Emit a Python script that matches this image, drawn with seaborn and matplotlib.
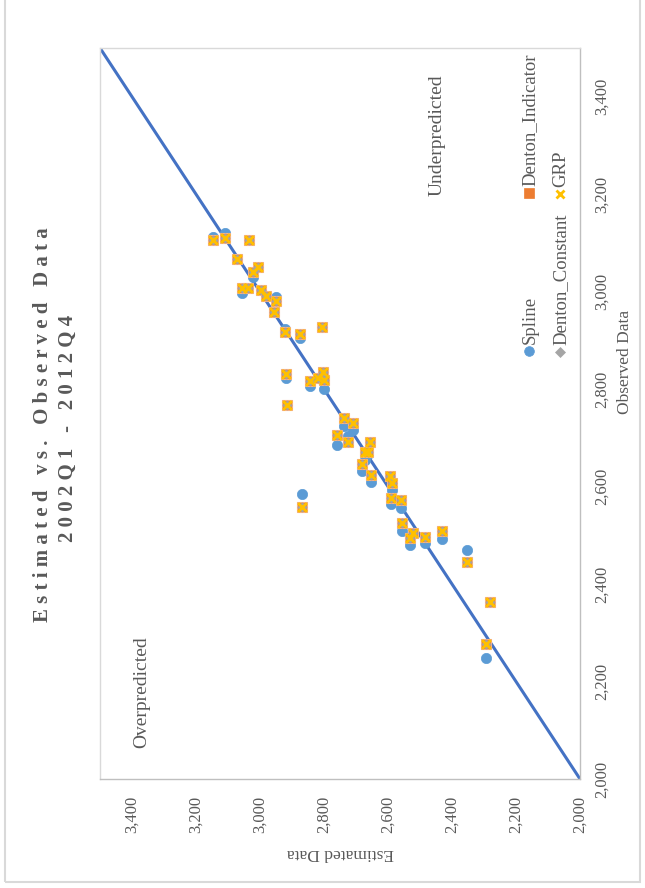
import matplotlib
matplotlib.use("Agg")
import matplotlib.pyplot as plt
import seaborn as sns
import pandas as pd
from matplotlib.patches import Rectangle

# ---- data ----
observed = [3148, 3109, 3034, 3071, 3005, 3021, 3057, 3037, 2998, 2982, 2950, 2956,
            2922, 2874, 2807, 2920, 2917, 2844, 2818, 2802, 2799, 2737, 2708, 2760,
            2724, 2656, 2672, 2662, 2680, 2653, 2594, 2588, 2592, 2559, 2557, 2523,
            2531, 2484, 2430, 2870, 2354, 2281, 2294]
spline = [3113, 3120, 3105, 3068, 3051, 3031, 2998, 3008, 3003, 2991, 2990, 2959,
          2923, 2904, 2927, 2822, 2767, 2807, 2822, 2836, 2800, 2724, 2716, 2685,
          2704, 2691, 2655, 2666, 2633, 2610, 2622, 2594, 2564, 2557, 2509, 2505,
          2480, 2485, 2492, 2585, 2470, 2364, 2248]
denton_indicator = [3106, 3111, 3105, 3068, 3051, 3040, 3007, 3008, 3003, 2991, 2981, 2959,
                    2917, 2913, 2927, 2832, 2767, 2817, 2822, 2836, 2819, 2740, 2731, 2706,
                    2692, 2691, 2672, 2670, 2646, 2624, 2622, 2607, 2576, 2573, 2525, 2505,
                    2495, 2497, 2509, 2559, 2446, 2364, 2278]
denton_constant = list(denton_indicator)
grp = list(denton_indicator)
ref_line = [2000, 3500]
axis_ticks = [2000, 2200, 2400, 2600, 2800, 3000, 3200, 3400]
tick_labels = ["2,000", "2,200", "2,400", "2,600", "2,800", "3,000", "3,200", "3,400"]

df = pd.DataFrame({"observed": observed, "Spline": spline,
                   "Denton_Indicator": denton_indicator,
                   "Denton_Constant": denton_constant, "GRP": grp})
line_df = pd.DataFrame({"a": ref_line, "b": ref_line})

sns.set_style("white")
plt.rcParams["font.family"] = ["Liberation Serif", "DejaVu Serif"]

W, H = 645, 888
fig = plt.figure(figsize=(W / 100, H / 100), dpi=100)
L, R, T, B = 100, 580, 48, 779
ax = fig.add_axes([L / W, 1 - B / H, (R - L) / W, (B - T) / H])

def fx(x):
    return x / W

def fy(y):
    return 1 - y / H

GRAY = "#595959"
BLUE = "#5B9BD5"
ORANGE = "#ED7D31"
GREY_M = "#A5A5A5"
YELLOW = "#FFC000"

sns.lineplot(data=line_df, x="a", y="b", ax=ax, color="#4472C4", lw=2.2, zorder=1)
sns.scatterplot(data=df, x="observed", y="Spline", ax=ax, marker="o", s=55,
                color=BLUE, edgecolor=BLUE, linewidth=0.5, zorder=2)
sns.scatterplot(data=df, x="observed", y="Denton_Indicator", ax=ax, marker="s", s=60,
                color=ORANGE, edgecolor="#F4B183", linewidth=0.8, zorder=3)
sns.scatterplot(data=df, x="observed", y="Denton_Constant", ax=ax, marker="D", s=22,
                color=GREY_M, edgecolor=GREY_M, linewidth=0.5, zorder=4)
sns.scatterplot(data=df, x="observed", y="GRP", ax=ax, marker="x", s=40,
                color=YELLOW, linewidth=2.0, zorder=5)

ax.set_xlim(3500, 2000)
ax.set_ylim(2000, 3500)
ax.set_xticks(axis_ticks)
ax.set_xticklabels(tick_labels)
ax.set_yticks(axis_ticks)
ax.set_yticklabels(tick_labels)
ax.yaxis.tick_right()
ax.tick_params(axis="x", length=0, pad=12, labelsize=12, labelcolor=GRAY, labelrotation=90)
ax.tick_params(axis="y", length=0, pad=10, labelsize=12, labelcolor=GRAY, labelrotation=90)
for lab in ax.get_yticklabels():
    lab.set_va("center")
    lab.set_ha("left")
ax.set_xlabel("")
ax.set_ylabel("")
for side, sp in ax.spines.items():
    sp.set_visible(True)
    sp.set_color("#D9D9D9" if side in ("top", "left") else "#BFBFBF")
    sp.set_linewidth(1.0)

# outer chart border
fig.patches.append(Rectangle((fx(5), fy(882)), fx(635), 1.0, transform=fig.transFigure,
                             fill=False, edgecolor="#D9D9D9", lw=1.5, clip_on=False))

# title (letter-spaced)
t1 = "Estimated vs. Observed Data"
t2 = "2002Q1 - 2012Q4"
fig.text(fx(43), fy(425), " ".join(t1), rotation=90, ha="center", va="center",
         fontsize=15, fontweight="bold", color=GRAY)
fig.text(fx(68), fy(428), " ".join(t2), rotation=90, ha="center", va="center",
         fontsize=15, fontweight="bold", color=GRAY)

# axis titles
fig.text(fx(340), fy(853), "Estimated Data", rotation=180, ha="center", va="center",
         fontsize=12.5, color=GRAY)
fig.text(fx(625), fy(362), "Observed Data", rotation=90, ha="center", va="center",
         fontsize=12.5, color=GRAY)

# annotations
fig.text(fx(437), fy(135), "Underpredicted", rotation=90, ha="center", va="center",
         fontsize=14, color=GRAY)
fig.text(fx(142), fy(692), "Overpredicted", rotation=90, ha="center", va="center",
         fontsize=14, color=GRAY)

# legend (drawn manually, rotated)
leg = [("Spline", 529, 351, "o", BLUE, 7, None),
       ("Denton_Constant", 560, 352, "D", GREY_M, 5, None),
       ("Denton_Indicator", 529, 193, "s", ORANGE, 7, None),
       ("GRP", 560, 194, "x", YELLOW, 6, 2.0)]
for name, lx, ly, mk, col, ms, mew in leg:
    ax.plot([fx(lx)], [fy(ly)], marker=mk, color=col, ms=ms, linestyle="none",
            mew=mew if mew else 0.5, transform=fig.transFigure, clip_on=False)
    fig.text(fx(lx + 1), fy(ly - 7), name, rotation=90, ha="center", va="bottom",
             fontsize=13.5, color=GRAY)

fig.savefig("out.png", dpi=100, facecolor="white")
